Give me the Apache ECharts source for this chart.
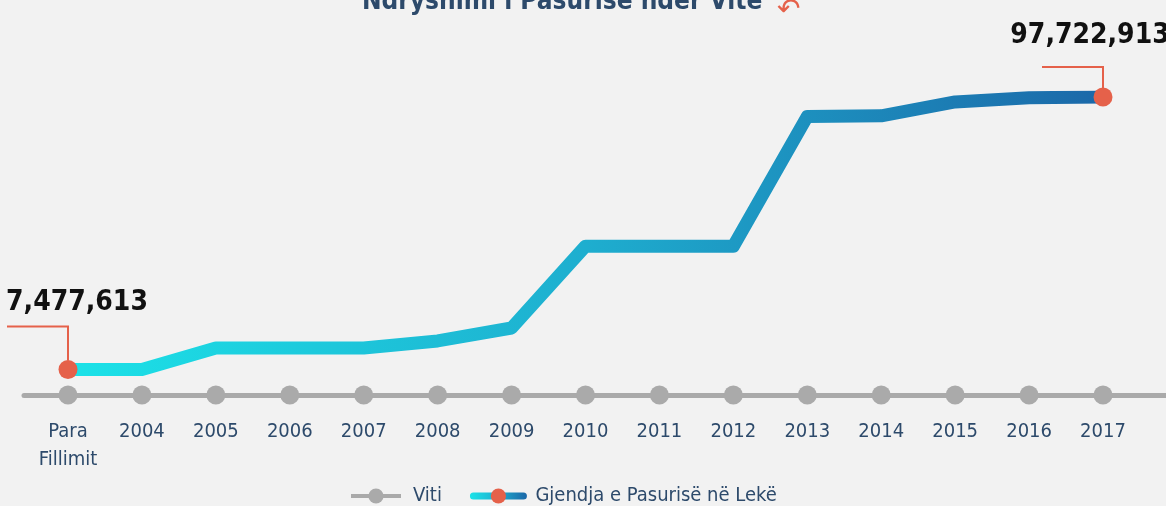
<!DOCTYPE html>
<html>
<head>
<meta charset="utf-8">
<script src="https://cdn.jsdelivr.net/npm/echarts@6/dist/echarts.min.js"></script>
<style>
  html, body { margin: 0; padding: 0; background: #f2f2f2; }
  #chart { width: 1166px; height: 506px; }
</style>
</head>
<body>
<div id="chart"></div>
<script>
// data
const categories = ['Para\nFillimit', '2004', '2005', '2006', '2007', '2008', '2009', '2010',
  '2011', '2012', '2013', '2014', '2015', '2016', '2017'];
const wealth = [7477613, 7477613, 14600000, 14600000, 14600000, 16900000, 21200000, 48300000,
  48300000, 48300000, 91300000, 91500000, 96100000, 97500000, 97722913];
const years = [0, 0, 0, 0, 0, 0, 0, 0, 0, 0, 0, 0, 0, 0, 0];
const seriesNames = ['Viti', 'Gjendja e Pasurisë në Lekë'];
const titleText = 'Ndryshimi i Pasurisë ndër Vite';

const FONT = "'DejaVu Sans Condensed', 'DejaVu Sans', sans-serif";
const NAVY = '#2d4a6b';
const ORANGE = '#e5614a';
const GREY = '#aaaaaa';
const last = wealth.length - 1;

// L-shaped leader from the label down to the point
function leader(w, h) {
  return 'path://M0,0 L' + w + ',0 L' + w + ',' + h + ' L' + (w - 2) + ',' + h +
    ' L' + (w - 2) + ',2 L0,2 Z';
}

const myChart = echarts.init(document.getElementById('chart'));

const option = {
  backgroundColor: '#f2f2f2',
  textStyle: { fontFamily: FONT },
  title: [
    {
      left: 357,
      top: -16,
      text: titleText,
      textStyle: {
        fontFamily: FONT,
        fontWeight: 'bold',
        fontSize: 26,
        color: NAVY
      }
    },
    {
      left: 772,
      top: -8,
      text: '↶',
      textStyle: { fontFamily: 'DejaVu Sans', fontWeight: 'normal', fontSize: 28, color: ORANGE }
    }
  ],
  legend: {
    bottom: -5,
    left: 344,
    itemWidth: 50,
    itemHeight: 19,
    itemGap: 28,
    textStyle: { fontFamily: FONT, fontSize: 20, color: NAVY, padding: [0, 0, 0, 7] },
    data: [
      { name: seriesNames[0], lineStyle: { width: 4 } },
      { name: seriesNames[1], lineStyle: { width: 7 } }
    ]
  },
  grid: [
    { left: 68, right: 63, top: 97, bottom: 111 },
    { left: 24, right: 0, top: 97, bottom: 111 }
  ],
  xAxis: [
    {
      type: 'category',
      gridIndex: 0,
      data: categories,
      boundaryGap: false,
      axisLine: { show: false },
      axisTick: { show: false },
      splitLine: { show: false },
      axisLabel: {
        interval: 0,
        margin: 23,
        fontFamily: FONT,
        fontSize: 20,
        lineHeight: 28,
        color: NAVY
      }
    },
    {
      type: 'value',
      gridIndex: 1,
      min: 0,
      max: 1,
      axisLine: { show: true, lineStyle: { color: GREY, width: 5 } },
      axisTick: { show: false },
      axisLabel: { show: false },
      splitLine: { show: false }
    }
  ],
  yAxis: [
    { type: 'value', gridIndex: 0, min: -1000000, max: 97722913, show: false },
    { type: 'value', gridIndex: 0, min: 0, max: 1, show: false },
    { type: 'value', gridIndex: 1, min: 0, max: 1, show: false }
  ],
  series: [
    {
      name: seriesNames[0],
      type: 'line',
      xAxisIndex: 0,
      yAxisIndex: 1,
      data: years,
      symbol: 'circle',
      symbolSize: 19,
      itemStyle: { color: GREY },
      lineStyle: { color: GREY, width: 4 },
      silent: true,
      z: 2
    },
    {
      name: seriesNames[1],
      type: 'line',
      xAxisIndex: 0,
      yAxisIndex: 0,
      data: wealth,
      symbol: 'circle',
      symbolSize: function (val, params) {
        return params.dataIndex === 0 || params.dataIndex === last ? 19 : 0;
      },
      showAllSymbol: true,
      itemStyle: { color: ORANGE },
      lineStyle: {
        width: 13,
        join: 'round',
        cap: 'round',
        color: new echarts.graphic.LinearGradient(0, 0, 1, 0, [
          { offset: 0, color: '#1ce3e8' },
          { offset: 0.5, color: '#1eaecf' },
          { offset: 1, color: '#1b67a8' }
        ])
      },
      z: 3,
      markPoint: {
        silent: true,
        itemStyle: { color: ORANGE },
        label: {
          show: true,
          position: 'top',
          fontFamily: FONT,
          fontWeight: 'bold',
          fontSize: 28,
          color: '#111111',
          formatter: function (p) {
            return p.value.toLocaleString('en-US');
          }
        },
        data: [
          {
            coord: [0, wealth[0]],
            value: wealth[0],
            symbol: leader(62, 35),
            symbolSize: [62, 35],
            symbolOffset: [-30, -26.5],
            label: { offset: [39, -4] }
          },
          {
            coord: [last, wealth[last]],
            value: wealth[last],
            symbol: leader(62, 22),
            symbolSize: [62, 22],
            symbolOffset: [-30, -20],
            label: { offset: [17, -11] }
          }
        ]
      }
    }
  ]
};

myChart.setOption(option);
</script>
</body>
</html>
